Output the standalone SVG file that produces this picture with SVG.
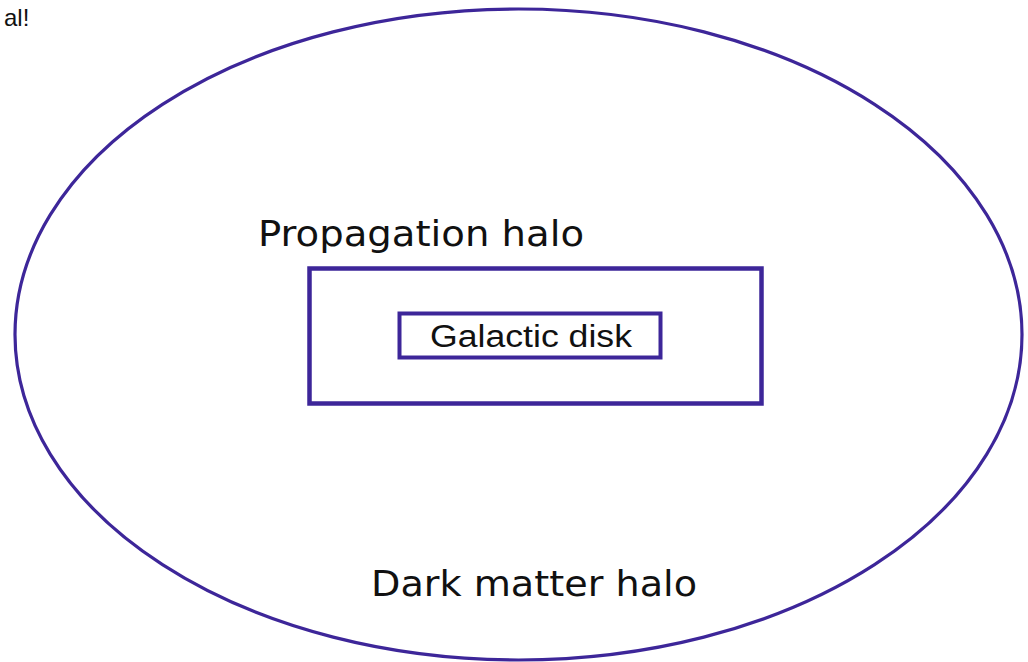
<svg xmlns="http://www.w3.org/2000/svg" width="1028" height="662" viewBox="0 0 1028 662">
<style>
.shape{fill:none;stroke:#3d2699}
.lbl{font-family:"DejaVu Sans","Open Sans",sans-serif;font-size:35px;fill:#111}
.disk{font-family:"Liberation Sans",Arial,sans-serif;font-size:31px;fill:#111}
</style>
<rect width="1028" height="662" fill="#fff"/>
<text x="4" y="26" font-family="Liberation Sans, Arial, sans-serif" font-size="24" fill="#111">al!</text>
<g id="dark-matter-halo">
<ellipse class="shape" cx="518.5" cy="334.5" rx="503.5" ry="325.5" stroke-width="3.2"/>
<text class="lbl" x="371" y="596" textLength="326" lengthAdjust="spacingAndGlyphs">Dark matter halo</text>
</g>
<g id="propagation-halo">
<rect class="shape" x="309.5" y="268.5" width="452" height="135" stroke-width="4.5"/>
<text class="lbl" x="258" y="246" textLength="326" lengthAdjust="spacingAndGlyphs">Propagation halo</text>
</g>
<g id="galactic-disk">
<rect class="shape" x="399.5" y="313.5" width="261" height="44" stroke-width="4"/>
<text class="disk" x="430" y="347" textLength="202" lengthAdjust="spacingAndGlyphs">Galactic disk</text>
</g>
<g id="connectors"></g>
</svg>
